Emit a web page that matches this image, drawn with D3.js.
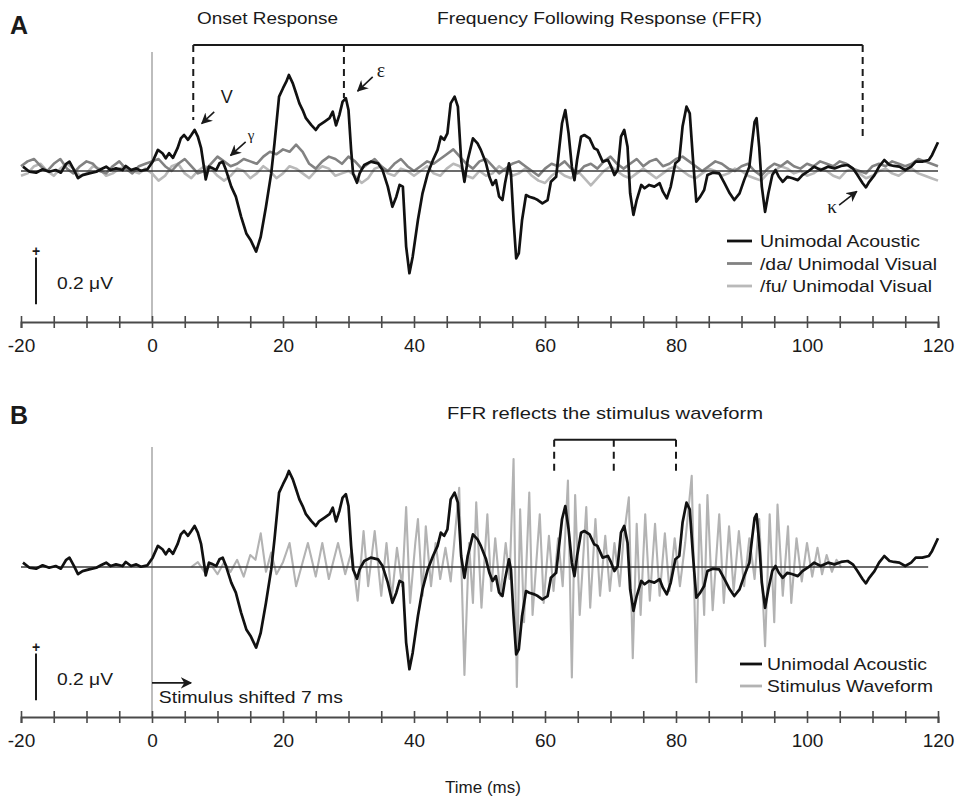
<!DOCTYPE html>
<html><head><meta charset="utf-8">
<script src="https://cdn.jsdelivr.net/npm/d3@7"></script>
<style>
body{margin:0;background:#fff}
svg{display:block}
text{font-family:"Liberation Sans",Arial,Helvetica,sans-serif;fill:#1a1a1a}
</style>
</head><body>
<svg id="chart" width="956" height="798"></svg>
<script>
// ---------- DATA ----------
const xTickValues = [-20,-15,-10,-5,0,5,10,15,20,25,30,35,40,45,50,55,60,65,70,75,80,85,90,95,100,105,110,115,120];
const xTickLabels = [-20,0,20,40,60,80,100,120];

// Unimodal Acoustic response: [time ms, amplitude µV]
const acoustic = [[-19.7,0.018],[-18.7,-0.003],[-17.7,-0.007],[-16.7,0.007],[-15.7,-0.003],[-14.7,0.004],[-13.9,-0.007],[-13.1,0.03],[-12.6,0.039],[-11.9,0.004],[-11.3,-0.03],[-10.6,-0.017],[-9.6,-0.01],[-8.5,-0.003],[-7.8,0.007],[-7.0,0.018],[-6.3,0.004],[-5.5,0.011],[-4.5,0.004],[-4.0,0.021],[-3.2,0.004],[-2.4,0.011],[-1.7,0.001],[-0.7,0.007],[0.1,0.039],[0.9,0.088],[1.6,0.074],[2.1,0.053],[2.6,0.074],[3.2,0.055],[3.9,0.095],[4.4,0.136],[4.9,0.15],[5.5,0.13],[6.0,0.15],[6.5,0.171],[7.0,0.143],[7.5,0.095],[8.0,0.004],[8.2,-0.035],[8.7,0.018],[9.3,0.011],[9.8,0.004],[10.3,0.032],[10.8,0.039],[11.3,0.004],[12.1,-0.065],[12.8,-0.107],[13.6,-0.19],[14.4,-0.26],[15.1,-0.29],[15.9,-0.336],[16.6,-0.274],[17.4,-0.149],[18.2,-0.01],[18.7,0.115],[19.4,0.31],[20.0,0.345],[20.5,0.372],[20.9,0.4],[21.5,0.365],[22.0,0.324],[22.5,0.282],[23.0,0.254],[23.5,0.22],[24.3,0.192],[25.0,0.171],[25.5,0.19],[26.3,0.205],[27.1,0.22],[27.6,0.247],[28.1,0.19],[28.6,0.233],[29.1,0.289],[29.6,0.303],[30.0,0.254],[30.4,0.088],[30.7,-0.01],[31.3,-0.049],[31.7,-0.01],[32.4,0.025],[33.4,0.039],[34.5,0.032],[35.2,0.004],[36.0,-0.065],[36.7,-0.149],[37.3,-0.107],[37.8,-0.058],[38.3,-0.065],[38.8,-0.315],[39.3,-0.426],[39.8,-0.357],[40.6,-0.204],[41.3,-0.093],[42.1,-0.01],[42.9,0.046],[43.6,0.088],[44.1,0.143],[44.6,0.13],[45.1,0.157],[45.6,0.282],[46.2,0.31],[46.7,0.268],[47.2,0.046],[47.7,-0.045],[48.2,0.046],[49.0,0.136],[49.7,0.115],[50.2,0.088],[51.0,0.032],[51.5,-0.024],[52.0,-0.058],[52.5,-0.038],[53.0,-0.107],[53.5,-0.121],[53.9,-0.051],[54.5,0.032],[54.8,-0.01],[55.2,-0.204],[55.6,-0.364],[56.0,-0.343],[56.5,-0.204],[57.1,-0.1],[57.6,-0.107],[58.4,-0.114],[58.9,-0.121],[59.6,-0.135],[60.4,-0.121],[60.9,-0.045],[61.7,-0.024],[62.2,0.101],[62.6,0.199],[63.1,0.254],[63.6,0.157],[64.1,0.018],[64.5,-0.038],[64.9,0.046],[65.5,0.143],[66.0,0.15],[66.8,0.136],[67.5,0.095],[68.0,0.088],[68.8,0.039],[69.6,0.046],[70.1,0.018],[70.6,-0.017],[71.1,0.004],[71.6,0.143],[72.1,0.171],[72.6,0.101],[73.0,-0.093],[73.5,-0.183],[74.0,-0.121],[74.7,-0.058],[75.2,-0.072],[75.9,-0.058],[76.7,-0.065],[77.5,-0.051],[78.0,-0.086],[78.6,-0.114],[79.2,-0.065],[79.9,0.032],[80.5,0.046],[81.0,0.185],[81.6,0.268],[82.1,0.24],[82.6,0.046],[83.1,-0.128],[83.7,-0.107],[84.3,-0.079],[84.8,-0.017],[85.6,-0.007],[86.6,-0.01],[87.4,-0.051],[88.2,-0.093],[88.9,-0.121],[89.7,-0.093],[90.4,-0.038],[91.2,0.018],[91.6,0.115],[92.0,0.205],[92.3,0.22],[92.7,0.101],[93.1,-0.065],[93.6,-0.17],[94.1,-0.093],[94.7,-0.017],[95.2,0.004],[95.7,-0.024],[96.3,-0.045],[97.0,-0.024],[97.8,-0.03],[98.6,-0.038],[99.3,-0.017],[100.1,-0.003],[101.1,0.018],[102.1,0.004],[103.2,0.018],[104.2,0.011],[105.2,0.021],[106.2,0.025],[107.0,0.011],[107.7,-0.017],[108.5,-0.051],[109.0,-0.068],[109.5,-0.045],[110.3,-0.017],[111.0,0.018],[111.8,0.046],[112.6,0.025],[113.3,0.021],[114.1,0.018],[115.0,0.004],[115.9,0.018],[116.6,0.039],[117.6,0.039],[118.6,0.046],[119.1,0.067],[120.0,0.12]];

// Stimulus waveform (shifted 7 ms): [time ms, amplitude]
const stimulus = [[6.0,0],[7.0,0.02],[8.0,-0.02],[9.0,0.01],[10.0,-0.03],[11.0,0.02],[12.0,-0.02],[13.0,0.03],[14.0,-0.04],[15.0,0.05],[15.8,0.03],[16.6,0.14],[17.4,-0.02],[18.2,0.06],[19.0,-0.03],[20.0,0.02],[21.0,0.1],[22.0,-0.08],[23.0,0.02],[23.8,0.1],[25.0,-0.04],[26.0,0.1],[27.0,-0.05],[28.4,0.1],[29.5,-0.03],[30.5,0.07],[31.4,-0.14],[32.3,0.15],[33.0,-0.08],[34.0,0.15],[35.0,-0.12],[35.8,0.1],[36.6,-0.13],[37.4,0.08],[38.2,-0.08],[38.8,0.25],[39.4,-0.15],[40.2,0.1],[40.6,0.2],[41.3,-0.12],[41.8,0.17],[42.6,-0.08],[43.3,0.1],[44.0,-0.05],[44.8,0.08],[45.6,-0.06],[46.2,0.12],[46.9,0.33],[47.7,-0.45],[48.4,0.1],[49.0,-0.15],[49.5,0.27],[50.3,-0.17],[51.2,0.22],[51.8,-0.1],[52.4,0.12],[53.2,-0.12],[54.0,0.1],[54.6,-0.05],[55.2,0.45],[55.7,-0.5],[56.2,0.24],[56.8,-0.23],[57.6,0.31],[58.1,-0.2],[59.2,0.22],[59.8,-0.15],[60.6,0.13],[61.3,-0.1],[62.0,0.12],[62.7,-0.08],[63.5,0.36],[64.1,-0.46],[64.6,0.3],[65.3,-0.2],[66.3,0.25],[66.9,-0.17],[67.7,0.2],[68.4,-0.12],[69.2,0.13],[69.9,-0.1],[70.6,0.1],[71.4,-0.08],[72.0,0.12],[72.8,0.29],[73.4,-0.38],[74.0,0.18],[74.6,-0.2],[75.3,0.22],[76.0,-0.14],[76.8,0.18],[77.5,-0.12],[78.3,0.14],[79.0,-0.1],[79.8,0.12],[80.6,-0.08],[81.4,0.1],[82.4,0.38],[83.1,-0.48],[83.6,0.26],[84.3,-0.2],[84.8,0.3],[85.6,-0.18],[86.6,0.22],[87.3,-0.15],[88.1,0.17],[88.8,-0.1],[89.6,0.15],[90.4,-0.08],[91.2,0.12],[92.0,-0.05],[92.7,0.2],[93.6,-0.33],[94.3,0.22],[95.0,-0.23],[95.5,0.26],[96.3,-0.12],[97.1,0.17],[97.6,-0.15],[98.4,0.12],[99.2,-0.06],[100.0,0.1],[100.8,-0.04],[101.6,0.08],[102.3,-0.03],[103.0,0.05],[103.8,-0.02],[104.5,0.03],[105.2,0]];

// Visual-only responses, sampled each ms from -20 to 120 ms (µV)
const visualTimes = d3.range(-20, 121, 1);
const daVisual = [0.02,0.04,0.05,0.02,0.0,0.03,0.05,0.01,-0.01,0.02,0.04,0.03,0.0,-0.01,0.02,0.04,0.01,-0.01,0.02,0.03,
 0.04,0.05,0.02,0.0,0.03,0.05,0.02,-0.01,0.0,0.03,0.06,0.04,0.02,0.03,0.05,0.04,0.03,0.06,0.08,0.07,
 0.09,0.08,0.11,0.08,0.03,0.01,0.04,0.06,0.05,0.03,0.06,0.04,0.01,0.03,0.05,0.02,0.0,0.03,0.05,0.02,
 0.0,0.02,0.04,0.03,0.05,0.07,0.09,0.06,0.03,0.01,0.04,0.05,0.02,-0.01,0.01,0.03,0.04,0.02,0.0,-0.02,
 0.01,0.03,0.02,0.04,0.01,-0.01,0.02,0.03,0.01,0.04,0.06,0.03,0.01,0.03,0.05,0.02,0.04,0.05,0.02,0.03,
 0.05,0.06,0.04,0.02,0.0,0.02,0.04,0.03,0.01,0.0,0.02,0.03,0.0,-0.02,0.01,0.03,0.02,0.04,0.02,0.01,
 0.03,0.02,0.04,0.03,0.02,0.04,0.03,0.01,0.0,-0.01,0.02,0.03,0.02,0.04,0.03,0.02,0.03,0.05,0.04,0.03,0.02];
const fuVisual = [-0.02,-0.01,0.02,0.03,0.0,-0.02,0.01,0.03,0.01,-0.02,-0.01,0.02,0.01,-0.02,-0.01,0.01,0.02,0.0,-0.01,0.01,
 -0.01,-0.04,-0.02,0.02,0.03,-0.01,-0.03,0.0,0.02,0.01,-0.02,-0.04,-0.02,0.01,0.0,-0.03,-0.01,0.02,0.0,-0.03,
 -0.01,0.02,0.01,-0.01,-0.03,0.0,0.02,0.01,-0.02,-0.01,0.0,-0.02,-0.05,-0.03,0.01,0.02,-0.01,-0.02,0.01,0.0,
 -0.02,0.0,0.02,-0.01,-0.02,0.01,0.03,0.02,-0.02,-0.03,0.0,-0.02,-0.01,0.02,0.0,-0.02,-0.01,0.01,-0.02,-0.04,
 -0.05,-0.02,0.0,-0.02,-0.03,0.0,-0.03,-0.06,-0.03,0.0,0.02,0.0,-0.02,-0.03,-0.01,0.01,-0.01,-0.03,-0.01,0.01,
 0.02,0.0,-0.02,-0.03,-0.01,0.01,0.0,-0.02,-0.01,0.01,0.0,-0.02,-0.03,-0.04,-0.01,0.0,0.02,0.01,-0.01,0.0,
 -0.02,-0.01,0.01,0.0,-0.02,-0.03,0.0,0.01,-0.01,-0.03,-0.02,0.0,0.01,-0.01,-0.02,0.0,0.01,-0.01,-0.02,-0.03,-0.04];

const legendA = ["Unimodal Acoustic", "/da/ Unimodal Visual", "/fu/ Unimodal Visual"];
const legendB = ["Unimodal Acoustic", "Stimulus Waveform"];

// ---------- DRAWING ----------
const svg = d3.select("#chart");
const x = d3.scaleLinear().domain([-20, 120]).range([21, 938]);
const pxPerUV = 240;

const defs = svg.append("defs");
defs.append("marker").attr("id","arr").attr("viewBox","0 0 10 10").attr("refX",9).attr("refY",5)
  .attr("markerWidth",7).attr("markerHeight",7).attr("orient","auto-start-reverse")
  .append("path").attr("d","M0,0 L10,5 L0,10 L3,5 z").attr("fill","#1a1a1a");

function drawPanel(cfg) {
  const y = d3.scaleLinear().domain([0, 1]).range([cfg.base, cfg.base - pxPerUV]);
  const g = svg.append("g");
  const line = d3.line().x(d => x(d[0])).y(d => y(d[1])).curve(d3.curveLinear);

  g.append("line").attr("x1", x(0)).attr("x2", x(0)).attr("y1", cfg.zeroTop).attr("y2", cfg.axisY)
    .attr("stroke","#9a9a9a").attr("stroke-width",1.3);

  const axis = d3.axisBottom(x).tickValues(xTickValues).tickSizeOuter(0).tickSize(6)
    .tickFormat(d => xTickLabels.includes(d) ? String(d) : "");
  const ag = g.append("g").attr("transform", `translate(0,${cfg.axisY})`).call(axis);
  ag.select(".domain").attr("stroke","#4a4a4a").attr("stroke-width",2);
  ag.selectAll(".tick line").attr("y1",-6).attr("y2",6).attr("stroke","#4a4a4a").attr("stroke-width",1.6);
  ag.selectAll(".tick text").attr("y",30).attr("dy",0)
    .style("font-family",'"Liberation Sans Narrow","Arial Narrow","Liberation Sans",Arial,sans-serif')
    .style("font-size","19px").attr("fill","#1a1a1a");

  cfg.series.forEach(s => {
    g.append("path").datum(s.data).attr("d", line).attr("fill","none")
      .attr("stroke", s.color).attr("stroke-width", s.width).attr("stroke-linejoin","round");
  });
  return {g, y, line};
}

// ---------------- Panel A ----------------
const pA = drawPanel({
  base: 171, axisY: 322, zeroTop: 52,
  series: [
    {data: visualTimes.map((t,i)=>[t, fuVisual[i]]), color:"#b9b9b9", width:2.6},
    {data: visualTimes.map((t,i)=>[t, daVisual[i]]), color:"#828282", width:2.6}
  ]
});
pA.g.append("line").attr("x1", x(-20)).attr("x2", x(120)).attr("y1", pA.y(0)).attr("y2", pA.y(0))
  .attr("stroke","#3a3a3a").attr("stroke-width",1.6);
pA.g.append("path").datum(acoustic).attr("d", pA.line).attr("fill","none")
  .attr("stroke","#111").attr("stroke-width",2.7).attr("stroke-linejoin","round");

// ---------------- Panel B ----------------
const pB = drawPanel({
  base: 567, axisY: 717, zeroTop: 447,
  series: [
    {data: stimulus, color:"#b3b3b3", width:2.1}
  ]
});
pB.g.append("line").attr("x1", x(-20)).attr("x2", x(118.5)).attr("y1", pB.y(0)).attr("y2", pB.y(0))
  .attr("stroke","#3a3a3a").attr("stroke-width",1.6);
pB.g.append("path").datum(acoustic).attr("d", pB.line).attr("fill","none")
  .attr("stroke","#111").attr("stroke-width",2.7).attr("stroke-linejoin","round");

// ---------- Annotations ----------
function txt(xp, yp, s, size, opts = {}) {
  const t = svg.append("text").attr("x", xp).attr("y", yp).text(s).style("font-size", size + "px");
  if (opts.len) t.attr("textLength", opts.len).attr("lengthAdjust","spacingAndGlyphs");
  if (opts.bold) t.style("font-weight","bold");
  if (opts.anchor) t.attr("text-anchor", opts.anchor);
  if (opts.family) t.style("font-family", opts.family);
  return t;
}
txt(10, 34, "A", 25, {bold:true});
txt(10, 424, "B", 25, {bold:true});
txt(197, 24, "Onset Response", 17, {len:141});
txt(437, 24, "Frequency Following Response (FFR)", 17, {len:325});
txt(447, 419, "FFR reflects the stimulus waveform", 17, {len:316});

// brackets (time in ms, level in µV)
const bracketA = {times:[6.3, 29.3, 108.5], top:0.525, ends:[0.2125, 0.304, 0.129]};
const bracketB = {times:[61.4, 70.5, 80.0], top:0.53, ends:[0.383, 0.383, 0.383]};
function bracket(b, y) {
  svg.append("line").attr("x1", x(b.times[0])).attr("x2", x(b.times[b.times.length-1]))
    .attr("y1", y(b.top)).attr("y2", y(b.top)).attr("stroke","#1a1a1a").attr("stroke-width",2);
  b.times.forEach((t,i) => {
    svg.append("line").attr("x1", x(t)).attr("x2", x(t)).attr("y1", y(b.top)).attr("y2", y(b.ends[i]))
      .attr("stroke","#1a1a1a").attr("stroke-width",2).attr("stroke-dasharray","7,5");
  });
}
bracket(bracketA, pA.y);
bracket(bracketB, pB.y);

// peak arrows: [t1, v1, t2, v2]
function arrow(a, y) {
  svg.append("line").attr("x1", x(a[0])).attr("y1", y(a[1])).attr("x2", x(a[2])).attr("y2", y(a[3]))
    .attr("stroke","#1a1a1a").attr("stroke-width",1.6).attr("marker-end","url(#arr)");
}
arrow([9.5, 0.246, 7.6, 0.198], pA.y);
arrow([14.3, 0.121, 12.0, 0.065], pA.y);
arrow([33.7, 0.392, 31.4, 0.333], pA.y);
arrow([104.9, -0.142, 107.6, -0.085], pA.y);
arrow([0, -0.483, 5.95, -0.483], pB.y);

txt(x(10.5), pA.y(0.283), "V", 18);
txt(x(14.6), pA.y(0.13), "γ", 15, {family:'"Liberation Serif","Times New Roman",serif'});
txt(x(34.3), pA.y(0.392), "ε", 20, {family:'"Liberation Serif","Times New Roman",serif'});
txt(x(103.1), pA.y(-0.176), "κ", 19, {family:'"Liberation Serif","Times New Roman",serif'});
txt(x(1.05), pB.y(-0.565), "Stimulus shifted 7 ms", 17, {len:184});

// scale bars (0.2 µV)
function scaleBar(y) {
  svg.append("line").attr("x1",36).attr("x2",36).attr("y1", y(-0.36)).attr("y2", y(-0.555))
    .attr("stroke","#1a1a1a").attr("stroke-width",2);
  txt(36, y(-0.36) - 1, "+", 14, {anchor:"middle", bold:true});
  txt(57, y(-0.49), "0.2 μV", 17, {len:56});
}
scaleBar(pA.y);
scaleBar(pB.y);

// legends
const colorsA = ["#111", "#828282", "#b9b9b9"];
const lensA = [160, 177, 172];
legendA.forEach((s,i) => {
  const yb = 247 + i*22.5;
  svg.append("line").attr("x1",727).attr("x2",752).attr("y1", yb-6).attr("y2", yb-6)
    .attr("stroke", colorsA[i]).attr("stroke-width",2.8);
  txt(760, yb, s, 17, {len: lensA[i]});
});
const colorsB = ["#111", "#b3b3b3"];
const lensB = [160, 166];
legendB.forEach((s,i) => {
  const yb = 670 + i*22;
  svg.append("line").attr("x1",740).attr("x2",762).attr("y1", yb-6).attr("y2", yb-6)
    .attr("stroke", colorsB[i]).attr("stroke-width",2.8);
  txt(767, yb, s, 17, {len: lensB[i]});
});

txt(483, 793, "Time (ms)", 17, {anchor:"middle"});
</script>
</body></html>
